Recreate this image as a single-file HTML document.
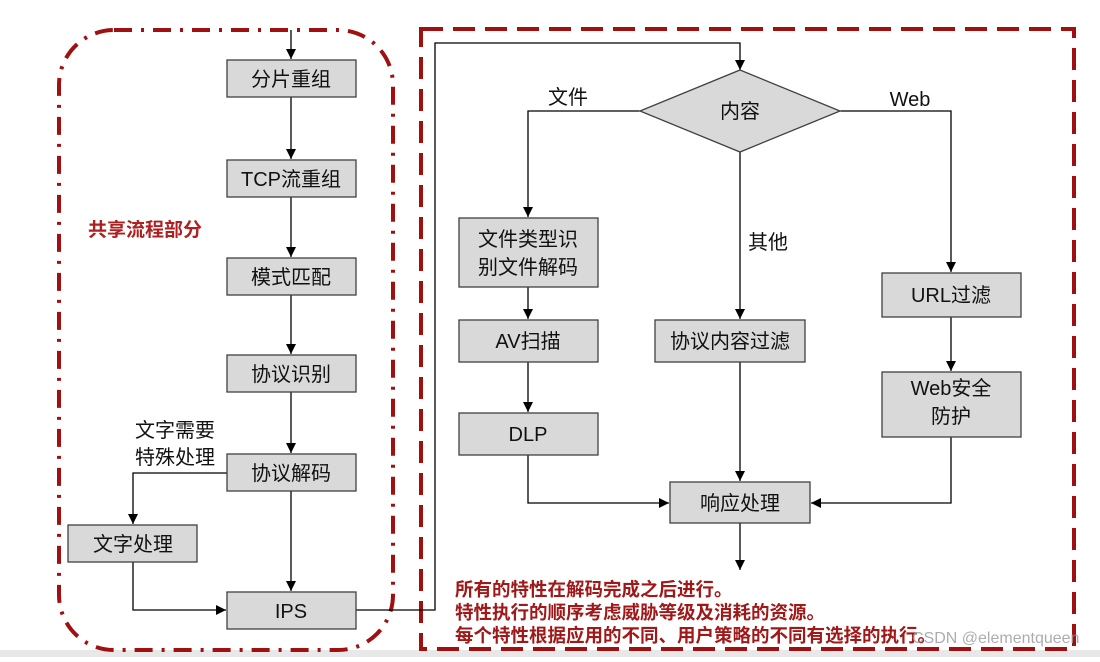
<!DOCTYPE html>
<html><head><meta charset="utf-8"><style>
body{margin:0;width:1100px;height:657px;background:#fff;overflow:hidden;font-family:"Liberation Sans","Noto Sans CJK SC",sans-serif}
</style></head><body>
<svg width="1100" height="657" xmlns="http://www.w3.org/2000/svg" font-family="Liberation Sans, Noto Sans CJK SC, sans-serif">
<defs>
<marker id="b" viewBox="0 0 10 10" markerWidth="10" markerHeight="10" refX="10" refY="5" orient="auto" markerUnits="userSpaceOnUse"><path d="M0,0 L10,5 L0,10 z" fill="#000"/></marker></defs>
<rect x="0" y="650" width="1100" height="7" fill="#e8e8e8"/>
<rect x="59" y="30" width="334" height="620" rx="55" fill="none" stroke="#a01010" stroke-width="4" stroke-dasharray="18,9,3,9"/>
<rect x="421" y="29" width="653" height="620" fill="none" stroke="#a01010" stroke-width="4" stroke-dasharray="22,10"/>
<g fill="none" stroke="#000" stroke-width="1.3">
<path d="M291 30 V59" marker-end="url(#b)"/>
<path d="M291 97 V159" marker-end="url(#b)"/>
<path d="M291 197 V257" marker-end="url(#b)"/>
<path d="M291 295 V354" marker-end="url(#b)"/>
<path d="M291 392 V453" marker-end="url(#b)"/>
<path d="M291 491 V591" marker-end="url(#b)"/>
<path d="M227 473 H133 V524" marker-end="url(#b)"/>
<path d="M133 562 V610 H226" marker-end="url(#b)"/>
<path d="M356 610 H435 V43 H740 V70" marker-end="url(#b)"/>
<path d="M640 111 H528 V217" marker-end="url(#b)"/>
<path d="M528 287 V319" marker-end="url(#b)"/>
<path d="M528 362 V412" marker-end="url(#b)"/>
<path d="M528 455 V503 H669" marker-end="url(#b)"/>
<path d="M740 152 V319" marker-end="url(#b)"/>
<path d="M740 362 V481" marker-end="url(#b)"/>
<path d="M840 111 H951 V272" marker-end="url(#b)"/>
<path d="M951 317 V371" marker-end="url(#b)"/>
<path d="M951 437 V503 H811" marker-end="url(#b)"/>
<path d="M740 523 V570" marker-end="url(#b)"/>
</g>
<g fill="#d9d9d9" stroke="#404040" stroke-width="1.3">
<rect x="227" y="60" width="129" height="37"/>
<rect x="227" y="160" width="129" height="37"/>
<rect x="227" y="258" width="129" height="37"/>
<rect x="227" y="355" width="129" height="37"/>
<rect x="227" y="454" width="129" height="37"/>
<rect x="227" y="592" width="129" height="37"/>
<rect x="68" y="525" width="129" height="37"/>
<polygon points="740,70 840,111 740,152 640,111"/>
<rect x="459" y="218" width="139" height="69"/>
<rect x="459" y="320" width="139" height="42"/>
<rect x="459" y="413" width="139" height="42"/>
<rect x="655" y="320" width="150" height="42"/>
<rect x="670" y="482" width="140" height="41"/>
<rect x="882" y="273" width="139" height="44"/>
<rect x="882" y="372" width="139" height="65"/>
</g>
<g font-size="20" fill="#111" text-anchor="middle">
<text x="291" y="86">分片重组</text>
<text x="291" y="186">TCP流重组</text>
<text x="291" y="284">模式匹配</text>
<text x="291" y="381">协议识别</text>
<text x="291" y="480">协议解码</text>
<text x="291" y="618">IPS</text>
<text x="133" y="551">文字处理</text>
<text x="740" y="118">内容</text>
<text x="528" y="246">文件类型识</text>
<text x="528" y="274">别文件解码</text>
<text x="528" y="348">AV扫描</text>
<text x="528" y="441">DLP</text>
<text x="730" y="348">协议内容过滤</text>
<text x="740" y="510">响应处理</text>
<text x="951" y="302">URL过滤</text>
<text x="951" y="395">Web安全</text>
<text x="951" y="423">防护</text>
<text x="568" y="104">文件</text>
<text x="910" y="106">Web</text>
<text x="768" y="249">其他</text>
<text x="175" y="437">文字需要</text>
<text x="175" y="464">特殊处理</text>
</g>
<text x="88" y="236" font-size="19" font-weight="bold" fill="#b02020">共享流程部分</text>
<g font-size="18.5" font-weight="bold" fill="#a01818">
<text x="455" y="596">所有的特性在解码完成之后进行。</text>
<text x="455" y="619">特性执行的顺序考虑威胁等级及消耗的资源。</text>
<text x="455" y="642">每个特性根据应用的不同、用户策略的不同有选择的执行。</text>
</g>
<text x="912" y="643" font-size="16" fill="#999" fill-opacity="0.8">CSDN @elementqueen</text>
</svg>
</body></html>
